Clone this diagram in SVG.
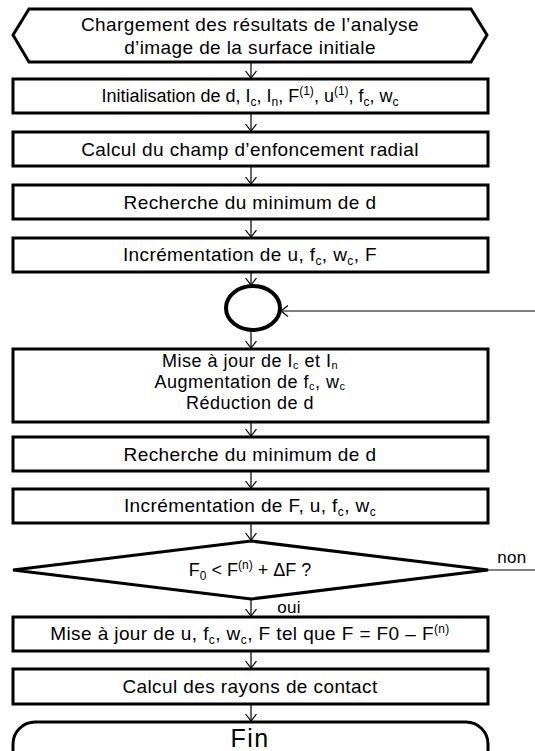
<svg xmlns="http://www.w3.org/2000/svg" width="535" height="751" viewBox="0 0 535 751">
<defs>
<style>
.box{fill:#fff;stroke:#000;stroke-width:3}
.circ{fill:#fff;stroke:#000;stroke-width:4}
.t{font-family:"Liberation Sans",Arial,sans-serif;font-size:19px;letter-spacing:0.4px;text-anchor:middle;fill:#000}
.t2{font-family:"Liberation Sans",Arial,sans-serif;font-size:18px;text-anchor:middle;fill:#000}
.t3{font-family:"Liberation Sans",Arial,sans-serif;font-size:18px;letter-spacing:0.5px;text-anchor:middle;fill:#000}
.lbl{font-family:"Liberation Sans",Arial,sans-serif;font-size:17px;letter-spacing:0.3px;text-anchor:middle;fill:#000}
.big{font-family:"Liberation Sans",Arial,sans-serif;font-size:25px;letter-spacing:1.5px;text-anchor:middle;fill:#000}
.sb{font-size:12px;baseline-shift:-4px}
.sb2{font-size:11px;baseline-shift:-2px}
.sp{font-size:12px;baseline-shift:7px}
.c{stroke:#000;stroke-width:1.2;fill:none;marker-end:url(#arr)}
.cn{stroke:#000;stroke-width:1.2;fill:none}
</style>
<marker id="arr" viewBox="0 0 8 12" refX="7.5" refY="6" markerWidth="8" markerHeight="12" markerUnits="userSpaceOnUse" orient="auto">
<path d="M0.5,0.5 L7.5,6 L0.5,11.5" fill="none" stroke="#000" stroke-width="1.2"/>
</marker>
</defs>
<rect width="535" height="751" fill="#fff"/>
<g id="connectors">
<line class="c" x1="251" y1="62" x2="251" y2="78"/>
<line class="c" x1="251" y1="113" x2="251" y2="131"/>
<line class="c" x1="251" y1="166" x2="251" y2="184"/>
<line class="c" x1="251" y1="219" x2="251" y2="237"/>
<line class="c" x1="251" y1="272" x2="251" y2="285"/>
<line class="c" x1="535" y1="311" x2="281" y2="311"/>
<line class="c" x1="251" y1="330" x2="251" y2="348"/>
<line class="c" x1="251" y1="422" x2="251" y2="436"/>
<line class="c" x1="251" y1="471" x2="251" y2="488"/>
<line class="c" x1="251" y1="523" x2="251" y2="540"/>
<line class="c" x1="251" y1="599" x2="251" y2="616"/>
<line class="c" x1="251" y1="651" x2="251" y2="668"/>
<line class="c" x1="251" y1="704" x2="251" y2="721"/>
<line class="cn" x1="488" y1="570" x2="535" y2="570"/>
<text class="lbl" x="512" y="563">non</text>
<text class="lbl" x="289" y="613">oui</text>
</g>
<g id="start">
<polygon class="box" points="13,35 29,9 471,9 487,35 471,62 29,62"/>
<text class="t" x="250" y="31">Chargement des résultats de l’analyse<tspan x="250" dy="23">d’image de la surface initiale</tspan></text>
</g>
<g id="init">
<rect class="box" x="13" y="79" width="475" height="34"/>
<text class="t2" x="250" y="102">Initialisation de d, I<tspan class="sb">c</tspan>, I<tspan class="sb">n</tspan>, F<tspan class="sp">(1)</tspan>, u<tspan class="sp">(1)</tspan>, f<tspan class="sb">c</tspan>, w<tspan class="sb">c</tspan></text>
</g>
<g id="calcul-champ">
<rect class="box" x="13" y="132" width="475" height="34"/>
<text class="t" x="250" y="156">Calcul du champ d’enfoncement radial</text>
</g>
<g id="recherche1">
<rect class="box" x="13" y="185" width="475" height="34"/>
<text class="t" x="250" y="209">Recherche du minimum de d</text>
</g>
<g id="increment1">
<rect class="box" x="13" y="238" width="475" height="34"/>
<text class="t" x="250" y="261">Incrémentation de u, f<tspan class="sb">c</tspan>, w<tspan class="sb">c</tspan>, F</text>
</g>
<g id="jonction">
<ellipse class="circ" cx="253" cy="308" rx="27" ry="22"/>
</g>
<g id="mise-a-jour">
<rect class="box" x="13" y="349" width="475" height="73"/>
<text class="t3" x="250" y="367">Mise à jour de I<tspan class="sb2">c</tspan> et I<tspan class="sb2">n</tspan></text>
<text class="t3" x="250" y="388">Augmentation de f<tspan class="sb2">c</tspan>, w<tspan class="sb2">c</tspan></text>
<text class="t3" x="250" y="409">Réduction de d</text>
</g>
<g id="recherche2">
<rect class="box" x="13" y="437" width="475" height="34"/>
<text class="t" x="250" y="461">Recherche du minimum de d</text>
</g>
<g id="increment2">
<rect class="box" x="13" y="489" width="475" height="34"/>
<text class="t" x="250" y="512">Incrémentation de F, u, f<tspan class="sb">c</tspan>, w<tspan class="sb">c</tspan></text>
</g>
<g id="test">
<polygon class="box" points="251,541 488,570 251,599 13,570"/>
<text class="t2" x="250" y="576">F<tspan class="sb">0</tspan> &lt; F<tspan class="sp">(n)</tspan> + ΔF ?</text>
</g>
<g id="mise-a-jour-finale">
<rect class="box" x="13" y="617" width="475" height="34"/>
<text class="t" x="250" y="640">Mise à jour de u, f<tspan class="sb">c</tspan>, w<tspan class="sb">c</tspan>, F tel que F = F0 – F<tspan class="sp">(n)</tspan></text>
</g>
<g id="rayons">
<rect class="box" x="13" y="669" width="475" height="35"/>
<text class="t" x="250" y="693">Calcul des rayons de contact</text>
</g>
<g id="fin">
<rect class="box" x="13" y="722" width="475" height="60" rx="22" ry="22"/>
<text class="big" x="250" y="747">Fin</text>
</g>
</svg>
